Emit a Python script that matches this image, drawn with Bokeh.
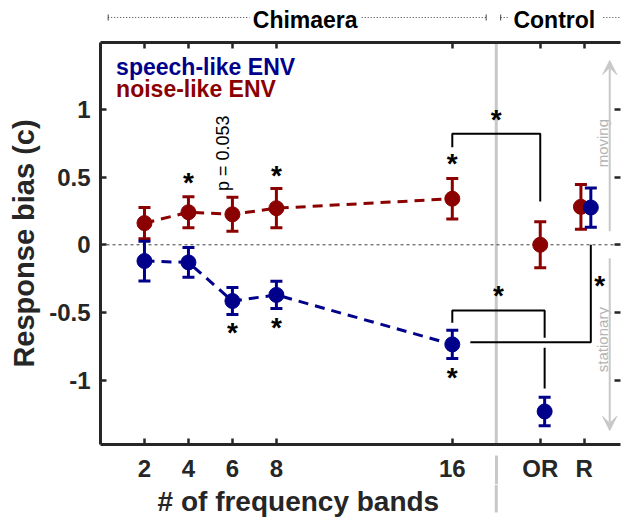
import numpy as np
from bokeh.plotting import figure
from bokeh.layouts import column
from bokeh.models import (ColumnDataSource, Span, Arrow, TeeHead, VeeHead, CustomLabelingPolicy,
                          Whisker, LinearAxis, FixedTicker, Range1d)
from bokeh.core.properties import value
from bokeh.embed import file_html
from bokeh.resources import INLINE

# ---------------- data ----------------
band_x = [2, 4, 6, 8, 16]
tick_positions = [2, 4, 6, 8, 16, 20, 22]
tick_labels = ["2", "4", "6", "8", "16", "OR", "R"]

noise_mean = [0.16, 0.24, 0.225, 0.27, 0.34]
noise_err = [0.115, 0.115, 0.125, 0.145, 0.15]
noise_ctrl_x = [20.0, 21.85]
noise_ctrl_mean = [0.0, 0.28]
noise_ctrl_err = [0.17, 0.165]

speech_mean = [-0.12, -0.13, -0.415, -0.37, -0.735]
speech_err = [0.147, 0.11, 0.10, 0.10, 0.105]
speech_ctrl_x = [20.2, 22.3]
speech_ctrl_mean = [-1.23, 0.275]
speech_ctrl_err = [0.105, 0.145]

star_x = [4, 8, 16, 6, 8, 16, 18.0, 18.1, 22.7]
star_y = [0.465, 0.52, 0.61, -0.64, -0.60, -0.97, 0.93, -0.37, -0.29]

# significance brackets (multi-line paths)
bracket_xs = [[16, 16, 20.0, 20.0],
              [16, 16, 20.2, 20.2],
              [20.2, 20.2],
              [16.82, 22.3, 22.3]]
bracket_ys = [[0.72, 0.82, 0.82, 0.32],
              [-0.576, -0.485, -0.485, -0.686],
              [-0.76, -1.06],
              [-0.72, -0.72, 0.0]]

group_names = ["Chimaera", "Control"]
group_centers = [9.31, 20.64]

NOISE = "#8b0000"
SPEECH = "#00008b"
AX = "#262626"
GRAY = "#c8c8c8"
DOT = "#404040"
FONT = "Liberation Sans"

x_lo, x_hi = 0, 23.65
y_lo, y_hi = -1.474, 1.493
xr = Range1d(x_lo, x_hi)

W = 625
HEAD_H = 38
MAIN_TOP, FRAME_H, MAIN_BOTTOM = 2, 404, 40
MAIN_H = MAIN_TOP + FRAME_H + MAIN_BOTTOM
FOOT_H = 518 - HEAD_H - MAIN_H

def bare(h, yr):
    f = figure(width=W, height=h, output_backend="svg", toolbar_location=None,
               x_range=xr, y_range=yr, x_axis_location=None, y_axis_location=None,
               min_border_left=100, min_border_right=0, min_border_top=0, min_border_bottom=0)
    f.outline_line_color = None
    f.grid.visible = False
    return f

# ---------------- header (group labels) ----------------
head = bare(HEAD_H, Range1d(HEAD_H, 0))
head.text(x=group_centers, y=[19.5, 19.5], text=group_names, text_font=value(FONT),
          text_font_style="bold", text_font_size="23px", text_color="black",
          text_align="center", text_baseline="middle")
head.segment(x0=[0.35, 11.88, 18.2, 22.87], x1=[6.78, 17.54, 18.53, 25.0],
             y0=[17] * 4, y1=[17] * 4, line_color=DOT, line_width=1, line_dash="1 2")
head.segment(x0=[0.35, 17.54, 18.2], x1=[0.35, 17.54, 18.2], y0=[14] * 3, y1=[20] * 3,
             line_color=DOT, line_width=1)

# ---------------- main plot ----------------
p = figure(width=W, height=MAIN_H, output_backend="svg", toolbar_location=None,
           x_range=xr, y_range=Range1d(y_lo, y_hi),
           x_axis_location=None, y_axis_location=None,
           min_border_left=100, min_border_right=0, min_border_top=MAIN_TOP,
           min_border_bottom=MAIN_BOTTOM)
p.outline_line_color = None
p.grid.visible = False

no_labels = CustomLabelingPolicy(code="""
for (const i of indices) { indices.unset(i) }
return indices
""")

def style_axis(ax):
    ax.axis_line_color = AX
    ax.axis_line_width = 3
    ax.major_tick_line_color = AX
    ax.major_tick_line_width = 2.5
    ax.major_tick_in = 6
    ax.major_tick_out = 0
    ax.minor_tick_line_color = None
    ax.minor_tick_out = 0
    ax.major_label_text_font = FONT
    ax.major_label_text_font_style = "bold"
    ax.major_label_text_color = AX
    ax.major_label_text_font_size = "24px"

def tick_only(ax):
    ax.major_label_policy = no_labels
    ax.major_label_text_font_size = "1px"
    ax.major_label_standoff = 0

SEP_GAP, SEP_LEN = 11, MAIN_BOTTOM
xb = LinearAxis(ticker=FixedTicker(ticks=tick_positions, minor_ticks=[18]),
                major_label_overrides={t: l for t, l in zip(tick_positions, tick_labels)})
style_axis(xb)
# the gray Chimaera/Control separator continues below the axis (as a minor tick)
xb.minor_tick_line_color = GRAY
xb.minor_tick_line_width = 3
xb.minor_tick_in = -SEP_GAP
xb.minor_tick_out = SEP_LEN
xb.major_label_standoff = 10 - SEP_LEN
p.add_layout(xb, "below")

xt = LinearAxis(ticker=FixedTicker(ticks=tick_positions))
style_axis(xt)
tick_only(xt)
p.add_layout(xt, "above")

yl = LinearAxis(ticker=FixedTicker(ticks=[-1, -0.5, 0, 0.5, 1]),
                major_label_overrides={-1: "-1", -0.5: "-0.5", 0: "0", 0.5: "0.5", 1: "1"},
                axis_label="Response bias (c)")
style_axis(yl)
yl.major_label_standoff = 10
yl.axis_label_standoff = 6
yl.axis_label_text_font = FONT
yl.axis_label_text_font_style = "bold"
yl.axis_label_text_font_size = "29px"
yl.axis_label_text_color = AX
p.add_layout(yl, "left")

yr = LinearAxis(ticker=FixedTicker(ticks=[-1, -0.5, 0, 0.5, 1]))
style_axis(yr)
yr.axis_line_color = None
tick_only(yr)
p.add_layout(yr, "right")

p.add_layout(Span(location=18, dimension="height", line_color=GRAY, line_width=3, level="underlay"))
p.add_layout(Span(location=0, dimension="width", line_color=DOT, line_width=1,
                  line_dash="3 3", level="underlay"))

# moving / stationary arrows
p.add_layout(Arrow(end=VeeHead(size=14, fill_color=GRAY, line_color=GRAY),
                   x_start=23.16, y_start=0.1, x_end=23.16, y_end=1.36,
                   line_color=GRAY, line_width=2))
p.add_layout(Arrow(end=VeeHead(size=14, fill_color=GRAY, line_color=GRAY),
                   x_start=23.16, y_start=-0.1, x_end=23.16, y_end=-1.37,
                   line_color=GRAY, line_width=2))
p.text(x=[22.84, 22.84], y=[0.75, -0.7], text=["moving", "stationary"],
       angle=np.pi / 2, text_font=value(FONT), text_font_size="15px",
       text_color="#b4b4b4", text_align="center", text_baseline="middle")

p.line(band_x, noise_mean, line_color=NOISE, line_width=3, line_dash="10 7")
p.line(band_x, speech_mean, line_color=SPEECH, line_width=3, line_dash="10 7")

p.multi_line(bracket_xs, bracket_ys, line_color="black", line_width=2)

def series(xs, means, errs, color):
    src = ColumnDataSource(dict(x=xs, y=means,
                                upper=[m + e for m, e in zip(means, errs)],
                                lower=[m - e for m, e in zip(means, errs)]))
    p.add_layout(Whisker(source=src, base="x", upper="upper", lower="lower",
                         dimension="height", line_color=color, line_width=3,
                         upper_head=TeeHead(size=12, line_color=color, line_width=3),
                         lower_head=TeeHead(size=12, line_color=color, line_width=3)))
    p.scatter("x", "y", source=src, size=15, fill_color=color, line_color=color)

series(band_x + noise_ctrl_x, noise_mean + noise_ctrl_mean, noise_err + noise_ctrl_err, NOISE)
series(band_x + speech_ctrl_x, speech_mean + speech_ctrl_mean, speech_err + speech_ctrl_err, SPEECH)

p.text(x=star_x, y=star_y, text=["*"] * len(star_x), text_font=value(FONT),
       text_font_style="bold", text_font_size="28px", text_color="black",
       text_align="center", text_baseline="middle", y_offset=1)

p.text(x=[5.55], y=[0.675], text=["p = 0.053"], angle=np.pi / 2, text_font=value(FONT),
       text_font_size="18px", text_color="black", text_align="center", text_baseline="middle")

p.text(x=[0.71, 0.71], y=[1.31, 1.15], text=["speech-like ENV", "noise-like ENV"],
       text_color=[SPEECH, NOISE], text_font=value(FONT), text_font_style="bold",
       text_font_size="23px", text_align="left", text_baseline="middle")

# ---------------- footer (x-axis title) ----------------
foot = bare(FOOT_H, Range1d(FOOT_H, 0))
foot.segment(x0=[18], x1=[18], y0=[0], y1=[28], line_color=GRAY, line_width=3)
foot.text(x=[9], y=[17], text=["# of frequency bands"], text_font=value(FONT),
          text_font_style="bold", text_font_size="28px", text_color=AX,
          text_align="center", text_baseline="middle")

layout = column(head, p, foot, spacing=0)
open("out.html", "w").write(file_html(layout, INLINE))
